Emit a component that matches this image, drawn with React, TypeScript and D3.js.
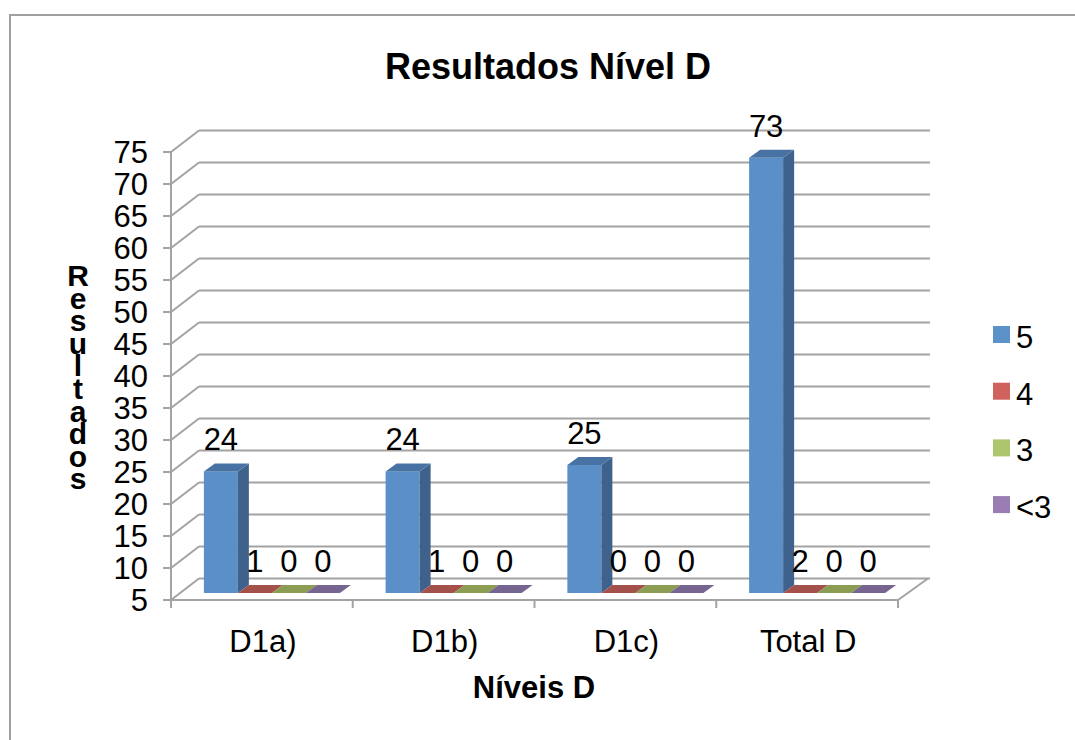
import React from "react";
import * as d3 from "d3";

const categories = ["D1a)", "D1b)", "D1c)", "Total D"];
const seriesNames = ["5", "4", "3", "<3"];
const values5 = [24, 24, 25, 73];
const values4 = [1, 1, 0, 2];
const values3 = [0, 0, 0, 0];
const valuesLt3 = [0, 0, 0, 0];
const yTicks = [5, 10, 15, 20, 25, 30, 35, 40, 45, 50, 55, 60, 65, 70, 75];

const seriesValues = [values5, values4, values3, valuesLt3];
const frontColors = ["#5A8FC7", "#C25955", "#9FB862", "#8C72A8"];
const topColors = ["#4872A3", "#A4504B", "#8A9D52", "#766491"];
const sideColors = ["#3E628C", "#8A3F3C", "#6F8040", "#5E4E77"];
const legendColors = ["#5B93C9", "#D0625D", "#ADC56D", "#9A7DB3"];

const FONT = "'Liberation Sans', Arial, sans-serif";
const GRID = "#A3A3A3";
const FS = 31;

export default function App() {
  const W = 1075, H = 740;
  const y = d3.scaleLinear().domain([5, 75]).range([600, 152]);
  const x = d3.scaleBand<string>().domain(categories).range([171, 898]).paddingInner(0).paddingOuter(0);
  const barW = 34;
  const inner = d3.scaleBand<string>().domain(seriesNames).range([0, barW * 4]).padding(0);
  const wallDx = 28, wallDy = -21.5; // back wall offset
  const rowDx = 10, rowDy = -7; // bar row offset
  const depthDx = 11, depthDy = -8; // bar depth
  const xRight = 898;
  const padOuter = (x.bandwidth() - barW * 4) / 2;

  const bars: React.ReactNode[] = [];
  const labels: React.ReactNode[] = [];
  categories.forEach((cat, ci) => {
    seriesNames.forEach((s, si) => {
      const v = seriesValues[si][ci];
      const x0 = (x(cat) as number) + padOuter + (inner(s) as number) + rowDx;
      const x1 = x0 + barW;
      const yb = y(5) + rowDy;
      const yt = y(Math.max(5, v)) + rowDy;
      const h = yb - yt;
      if (h > 0) {
        bars.push(
          <rect key={`f${ci}${si}`} x={x0} y={yt} width={barW} height={h} fill={frontColors[si]} />
        );
        bars.push(
          <polygon
            key={`s${ci}${si}`}
            points={`${x1},${yb} ${x1 + depthDx},${yb + depthDy} ${x1 + depthDx},${yt + depthDy} ${x1},${yt}`}
            fill={sideColors[si]}
          />
        );
      }
      bars.push(
        <polygon
          key={`t${ci}${si}`}
          points={`${x0},${yt} ${x1},${yt} ${x1 + depthDx},${yt + depthDy} ${x0 + depthDx},${yt + depthDy}`}
          fill={topColors[si]}
        />
      );
      labels.push(
        <text key={`l${ci}${si}`} x={x0 + barW / 2} y={yt - 21} textAnchor="middle" fontSize={FS} fontFamily={FONT} fill="#000">
          {v}
        </text>
      );
    });
  });

  return (
    <div style={{ position: "absolute", left: 0, top: 0 }}>
      <svg width={W} height={H} style={{ display: "block", background: "#fff" }}>
        <rect x={10} y={15} width={1200} height={900} fill="#fff" stroke="#A0A0A0" strokeWidth={2} />
        {yTicks.map((t) => (
          <g key={`g${t}`}>
            <line x1={171} y1={y(t)} x2={171 + wallDx} y2={y(t) + wallDy} stroke={GRID} strokeWidth={2} />
            <line x1={171 + wallDx} y1={y(t) + wallDy} x2={xRight + 32} y2={y(t) + wallDy} stroke={GRID} strokeWidth={2} />
            <line x1={163} y1={y(t)} x2={171} y2={y(t)} stroke={GRID} strokeWidth={2} />
            <text x={148} y={y(t)} dy="0.37em" textAnchor="end" fontSize={FS} fontFamily={FONT} fill="#000">
              {t}
            </text>
          </g>
        ))}
        <line x1={171} y1={y(75)} x2={171} y2={y(5)} stroke={GRID} strokeWidth={2} />
        <line x1={171} y1={y(5)} x2={xRight} y2={y(5)} stroke={GRID} strokeWidth={2} />
        <line x1={xRight} y1={y(5)} x2={xRight + 30} y2={y(5) + wallDy} stroke={GRID} strokeWidth={2} />
        {[...categories.map((c) => x(c) as number), xRight].map((tx, i) => (
          <line key={`xt${i}`} x1={tx} y1={y(5)} x2={tx} y2={y(5) + 8} stroke={GRID} strokeWidth={2} />
        ))}
        {bars}
        {labels}
        {categories.map((c) => (
          <text key={`xl${c}`} x={(x(c) as number) + x.bandwidth() / 2 + 1} y={652} textAnchor="middle" fontSize={FS} fontFamily={FONT} fill="#000">
            {c}
          </text>
        ))}
        <text x={548} y={79} textAnchor="middle" fontSize={36} fontWeight="bold" fontFamily={FONT} fill="#000">
          Resultados Nível D
        </text>
        <text x={534} y={698} textAnchor="middle" fontSize={FS} fontWeight="bold" fontFamily={FONT} fill="#000">
          Níveis D
        </text>
        <text
          x={78}
          y={372}
          textAnchor="middle"
          fontSize={30}
          fontWeight="bold"
          fontFamily={FONT}
          fill="#000"
          letterSpacing={-10.4}
          style={{ writingMode: "vertical-rl", textOrientation: "upright" } as React.CSSProperties}
        >
          Resultados
        </text>
        {seriesNames.map((s, i) => (
          <g key={`lg${s}`}>
            <rect x={993} y={326 + i * 56.7} width={17} height={17} fill={legendColors[i]} />
            <text x={1016} y={348 + i * 56.7} fontSize={FS} fontFamily={FONT} fill="#000">
              {s}
            </text>
          </g>
        ))}
      </svg>
    </div>
  );
}
